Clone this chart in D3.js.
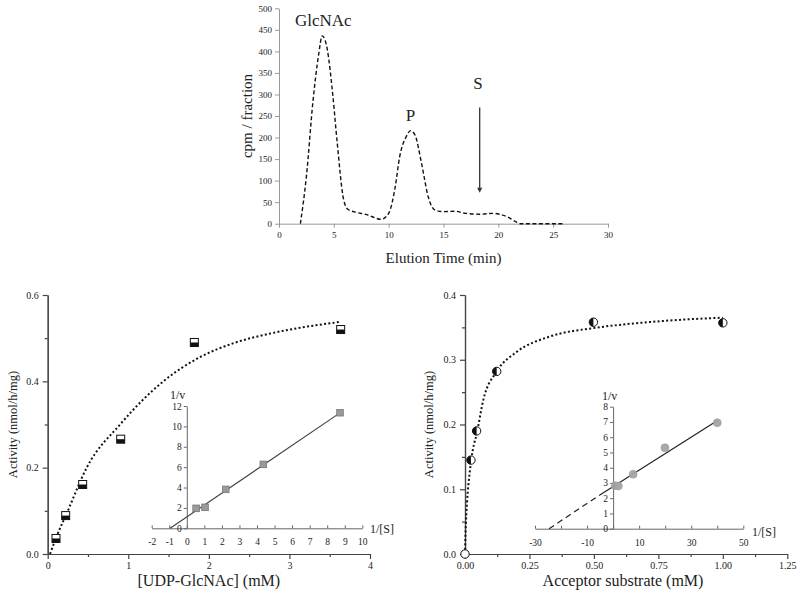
<!DOCTYPE html>
<html><head><meta charset="utf-8">
<script src="https://cdn.jsdelivr.net/npm/d3@7"></script>
<style>
body{margin:0;background:#fff}
svg{display:block}
text{font-family:"Liberation Serif","Times New Roman",serif;fill:#222}
</style></head>
<body><svg id="c" width="800" height="596"></svg>
<script>
// ---------- Data ----------
// Top: elution profile
const elutionTime = [1.95,2.5,3.1,3.6,3.95,4.4,4.9,5.3,5.9,6.3,7.1,8,8.7,9.3,10,10.6,11,11.6,12,12.4,13,13.6,14.2,15,16,17,18.3,19.5,20.1,20.8,21.5,22,23,24,25,26];
const elutionCpm  = [0,110,285,390,436,405,300,190,55,33,26,21,14,10,24,86,155,202,216,206,140,63,32,28,29,24,22,24,22,16,6,0,0,0,0,0];
const topXTicks = [0,5,10,15,20,25,30];
const topYTicks = [0,50,100,150,200,250,300,350,400,450,500];
const peakLabels = [{t:"GlcNAc", x:4.04, y:459},{t:"P", x:12, y:239},{t:"S", x:18.15, y:312}];
const arrowS = {x:18.3, from:270, to:72};

// Bottom left: UDP-GlcNAc
const udpConc     = [0.103,0.223,0.434,0.906,1.82,3.636];
const udpActivity = [0.036,0.089,0.161,0.266,0.49,0.52];
const udpFitX = [0.029,0.12,0.236,0.484,0.898,1.435,1.89,2.30,2.72,3.13,3.64];
const udpFitY = [0,0.045,0.094,0.2,0.3,0.4,0.456,0.488,0.509,0.524,0.538];
const udpXTicks = [0,1,2,3,4];
const udpXMinor = [0.5,1.5,2.5,3.5];
const udpYTicks = [0,0.2,0.4,0.6];
const udpYMinor = [0.1,0.3,0.5];
// inset (Lineweaver-Burk)
const lbUdpX = [0.53,1.04,2.22,4.36,8.73];
const lbUdpY = [1.96,2.06,3.82,6.27,11.34];
const lbUdpLineX = [-0.95,8.75];
const lbUdpLineY = [0,11.35];
const lbUdpXTicks = [-2,-1,0,1,2,3,4,5,6,7,8,9,10];
const lbUdpYTicks = [0,2,4,6,8,10,12];

// Bottom right: acceptor substrate
const accConc     = [0,0.023,0.045,0.123,0.498,1.0];
const accActivity = [0,0.145,0.19,0.282,0.358,0.357];
const accFitX = [0,0.002,0.008,0.018,0.03,0.045,0.071,0.123,0.2,0.33,0.5,0.653,0.847,1.0];
const accFitY = [0,0.03,0.08,0.125,0.16,0.185,0.238,0.282,0.312,0.336,0.349,0.356,0.362,0.365];
const accXTicks = [0,0.25,0.5,0.75,1.0,1.25];
const accXMinor = [0.125,0.375,0.625,0.875,1.125];
const accYTicks = [0,0.1,0.2,0.3,0.4];
const accYMinor = [0.05,0.15,0.25,0.35];
// inset
const lbAccX = [0.8,2.0,7.7,19.9,40];
const lbAccY = [2.82,2.8,3.57,5.31,6.95];
const lbAccSolidX = [-5.1,40.4];
const lbAccSolidY = [2.21,7.13];
const lbAccDashX = [-24.6,-5.1];
const lbAccDashY = [0,2.21];
const lbAccXTicks = [-30,-20,-10,0,10,20,30,40,50];
const lbAccXLabels = [-30,-10,10,30,50];
const lbAccYTicks = [0,1,2,3,4,5,6,7,8];

// ---------- Drawing ----------
const svg = d3.select("#c");
const plain = d => String(d);   // hyphen-minus like the original

function styleAxis(g, color, fs, width){
  g.selectAll("path.domain").attr("stroke", color).attr("stroke-width", width);
  g.selectAll(".tick line").attr("stroke", color).attr("stroke-width", width);
  g.selectAll(".tick text").attr("font-family","Liberation Serif, serif").attr("font-size", fs).attr("fill","#222");
}

// ===== Top chart =====
const xT = d3.scaleLinear([0,30],[279,608]);
const yT = d3.scaleLinear([0,500],[223.7,8.3]);
const gTx = svg.append("g").attr("transform",`translate(0,${yT(0)})`)
  .call(d3.axisBottom(xT).tickValues(topXTicks).tickFormat(plain).tickSize(4).tickSizeOuter(0).tickPadding(4));
styleAxis(gTx,"#999",9,1);
const gTy = svg.append("g").attr("transform",`translate(${xT(0)},0)`)
  .call(d3.axisLeft(yT).tickValues(topYTicks).tickFormat(plain).tickSize(4).tickSizeOuter(0).tickPadding(3));
styleAxis(gTy,"#999",9,1);

const topData = elutionTime.map((t,i)=>[t,elutionCpm[i]]);
svg.append("path").datum(topData)
  .attr("d", d3.line().x(d=>xT(d[0])).y(d=>yT(d[1])).curve(d3.curveMonotoneX))
  .attr("fill","none").attr("stroke","#111").attr("stroke-width",1.4).attr("stroke-dasharray","4,2.5");

svg.selectAll("text.peak").data(peakLabels).join("text").attr("class","peak")
  .attr("x",d=>xT(d.x)).attr("y",d=>yT(d.y)).attr("text-anchor","middle")
  .attr("font-size",17).text(d=>d.t);

svg.append("line").attr("x1",xT(arrowS.x)).attr("x2",xT(arrowS.x))
  .attr("y1",yT(arrowS.from)).attr("y2",yT(arrowS.to)-3)
  .attr("stroke","#333").attr("stroke-width",1.3);
{
  const ax = xT(arrowS.x), ay = yT(arrowS.to);
  svg.append("path").attr("d",`M${ax-2.6},${ay-5} L${ax+2.6},${ay-5} L${ax},${ay} Z`).attr("fill","#333");
}
svg.append("text").attr("transform",`translate(252,${(yT(0)+yT(500))/2}) rotate(-90)`)
  .attr("text-anchor","middle").attr("font-size",15).text("cpm / fraction");
svg.append("text").attr("x",(xT(0)+xT(30))/2).attr("y",263).attr("text-anchor","middle")
  .attr("font-size",15).text("Elution Time (min)");

// ===== Bottom left =====
const xL = d3.scaleLinear([0,4],[47.7,370]);
const yL = d3.scaleLinear([0,0.6],[554,295]);
const axisCol = "#444";
let g;
g = svg.append("g").attr("transform",`translate(0,${yL(0)})`)
  .call(d3.axisBottom(xL).tickValues(udpXTicks).tickFormat(plain).tickSize(5).tickSizeOuter(0).tickPadding(3));
styleAxis(g,axisCol,10,1.2);
g = svg.append("g").attr("transform",`translate(0,${yL(0)})`)
  .call(d3.axisBottom(xL).tickValues(udpXMinor).tickFormat("").tickSize(3).tickSizeOuter(0));
styleAxis(g,axisCol,10,1.2);
g = svg.append("g").attr("transform",`translate(${xL(0)},0)`)
  .call(d3.axisLeft(yL).tickValues(udpYTicks).tickFormat(d3.format(".1f")).tickSize(5).tickSizeOuter(0).tickPadding(4));
styleAxis(g,axisCol,10,1.2);
g = svg.append("g").attr("transform",`translate(${xL(0)},0)`)
  .call(d3.axisLeft(yL).tickValues(udpYMinor).tickFormat("").tickSize(3).tickSizeOuter(0));
styleAxis(g,axisCol,10,1.2);

svg.append("path").datum(udpFitX.map((x,i)=>[x,udpFitY[i]]))
  .attr("d", d3.line().x(d=>xL(d[0])).y(d=>yL(d[1])).curve(d3.curveMonotoneX))
  .attr("fill","none").attr("stroke","#111").attr("stroke-width",2).attr("stroke-dasharray","2,2.3");

const sq = svg.selectAll("g.sq").data(udpConc.map((x,i)=>[x,udpActivity[i]])).join("g")
  .attr("class","sq").attr("transform",d=>`translate(${xL(d[0])},${yL(d[1])})`);
sq.append("rect").attr("x",-4).attr("y",-4).attr("width",8).attr("height",8).attr("fill","#fff").attr("stroke","#111").attr("stroke-width",1);
sq.append("rect").attr("x",-4).attr("y",0).attr("width",8).attr("height",4).attr("fill","#111");

svg.append("text").attr("transform",`translate(17,${(yL(0)+yL(0.6))/2}) rotate(-90)`)
  .attr("text-anchor","middle").attr("font-size",12.5).text("Activity (nmol/h/mg)");
svg.append("text").attr("x",(xL(0)+xL(4))/2).attr("y",586).attr("text-anchor","middle")
  .attr("font-size",16).text("[UDP-GlcNAc] (mM)");

// inset left
const xLi = d3.scaleLinear([-2,10],[151.7,362.3]);
const yLi = d3.scaleLinear([0,12],[528.3,406]);
g = svg.append("g").attr("transform",`translate(0,${yLi(0)})`)
  .call(d3.axisBottom(xLi).tickValues(lbUdpXTicks).tickFormat(plain).tickSizeInner(-3).tickSizeOuter(0).tickPadding(10));
styleAxis(g,"#666",9.5,1);
g = svg.append("g").attr("transform",`translate(${xLi(0)},0)`)
  .call(d3.axisLeft(yLi).tickValues(lbUdpYTicks).tickFormat(plain).tickSize(3).tickSizeOuter(0).tickPadding(2));
styleAxis(g,"#666",9.5,1);
svg.append("line").attr("x1",xLi(lbUdpLineX[0])).attr("y1",yLi(lbUdpLineY[0]))
  .attr("x2",xLi(lbUdpLineX[1])).attr("y2",yLi(lbUdpLineY[1])).attr("stroke","#444").attr("stroke-width",1.2);
svg.selectAll("rect.lbsq").data(lbUdpX.map((x,i)=>[x,lbUdpY[i]])).join("rect").attr("class","lbsq")
  .attr("x",d=>xLi(d[0])-3.3).attr("y",d=>yLi(d[1])-3.3).attr("width",6.6).attr("height",6.6)
  .attr("fill","#9a9a9a").attr("stroke","#777").attr("stroke-width",0.8);
svg.append("text").attr("x",170).attr("y",399).attr("font-size",12).text("1/v");
svg.append("text").attr("x",370).attr("y",533).attr("font-size",12).text("1/[S]");

// ===== Bottom right =====
const xR = d3.scaleLinear([0,1.25],[465,787.3]);
const yR = d3.scaleLinear([0,0.4],[554,295]);
g = svg.append("g").attr("transform",`translate(0,${yR(0)})`)
  .call(d3.axisBottom(xR).tickValues(accXTicks).tickFormat(d3.format(".2f")).tickSize(5).tickSizeOuter(0).tickPadding(3));
styleAxis(g,axisCol,10,1.2);
g = svg.append("g").attr("transform",`translate(0,${yR(0)})`)
  .call(d3.axisBottom(xR).tickValues(accXMinor).tickFormat("").tickSize(3).tickSizeOuter(0));
styleAxis(g,axisCol,10,1.2);
g = svg.append("g").attr("transform",`translate(${xR(0)},0)`)
  .call(d3.axisLeft(yR).tickValues(accYTicks).tickFormat(d3.format(".1f")).tickSize(5).tickSizeOuter(0).tickPadding(4));
styleAxis(g,axisCol,10,1.2);
g = svg.append("g").attr("transform",`translate(${xR(0)},0)`)
  .call(d3.axisLeft(yR).tickValues(accYMinor).tickFormat("").tickSize(3).tickSizeOuter(0));
styleAxis(g,axisCol,10,1.2);

svg.append("path").datum(accFitX.map((x,i)=>[x,accFitY[i]]))
  .attr("d", d3.line().x(d=>xR(d[0])).y(d=>yR(d[1])).curve(d3.curveMonotoneX))
  .attr("fill","none").attr("stroke","#111").attr("stroke-width",2).attr("stroke-dasharray","2,2.3");

const ci = svg.selectAll("g.ci").data(accConc.map((x,i)=>[x,accActivity[i]])).join("g")
  .attr("class","ci").attr("transform",d=>`translate(${xR(d[0])},${yR(d[1])})`);
ci.append("circle").attr("r",4.2).attr("fill","#fff").attr("stroke","#111").attr("stroke-width",1);
ci.filter(d=>d[0]>0).append("path").attr("d","M0,-4.2 A4.2,4.2 0 0 0 0,4.2 Z").attr("fill","#111");

svg.append("text").attr("transform",`translate(433,${(yR(0)+yR(0.4))/2}) rotate(-90)`)
  .attr("text-anchor","middle").attr("font-size",12.5).text("Activity (nmol/h/mg)");
svg.append("text").attr("x",623).attr("y",586).attr("text-anchor","middle")
  .attr("font-size",16).text("Acceptor substrate (mM)");

// inset right
const xRi = d3.scaleLinear([-30,50],[535,743.3]);
const yRi = d3.scaleLinear([0,8],[528.7,406.7]);
g = svg.append("g").attr("transform",`translate(0,${yRi(0)})`)
  .call(d3.axisBottom(xRi).tickValues(lbAccXTicks).tickFormat(d=>lbAccXLabels.includes(d)?String(d):"")
    .tickSizeInner(-3).tickSizeOuter(0).tickPadding(11));
styleAxis(g,"#666",9.5,1);
g = svg.append("g").attr("transform",`translate(${xRi(0)},0)`)
  .call(d3.axisLeft(yRi).tickValues(lbAccYTicks).tickFormat(plain).tickSize(3).tickSizeOuter(0).tickPadding(2));
styleAxis(g,"#666",9.5,1);
svg.append("line").attr("x1",xRi(lbAccDashX[0])).attr("y1",yRi(lbAccDashY[0]))
  .attr("x2",xRi(lbAccDashX[1])).attr("y2",yRi(lbAccDashY[1])).attr("stroke","#222").attr("stroke-width",1.2).attr("stroke-dasharray","6,4");
svg.append("line").attr("x1",xRi(lbAccSolidX[0])).attr("y1",yRi(lbAccSolidY[0]))
  .attr("x2",xRi(lbAccSolidX[1])).attr("y2",yRi(lbAccSolidY[1])).attr("stroke","#222").attr("stroke-width",1.2);
svg.selectAll("circle.lbci").data(lbAccX.map((x,i)=>[x,lbAccY[i]])).join("circle").attr("class","lbci")
  .attr("cx",d=>xRi(d[0])).attr("cy",d=>yRi(d[1])).attr("r",4)
  .attr("fill","#a5a5a5").attr("stroke","#999").attr("stroke-width",0.6).attr("opacity",0.95);
svg.append("text").attr("x",602).attr("y",400).attr("font-size",12).text("1/v");
svg.append("text").attr("x",752).attr("y",536).attr("font-size",12).text("1/[S]");
</script></body></html>
